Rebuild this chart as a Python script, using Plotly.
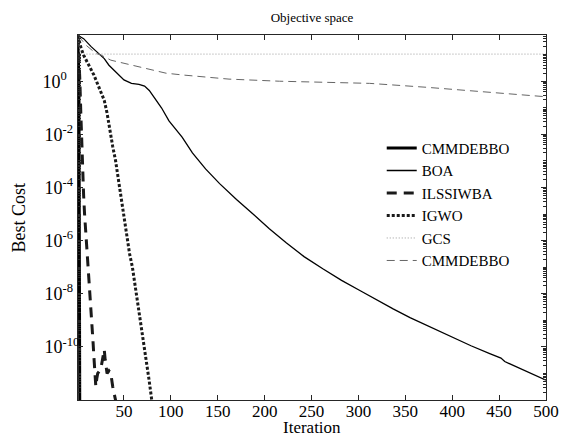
import plotly.graph_objects as go

# ---- data ----
cmm_x = [1, 2, 3]
cmm_y = [52, 0.9, 1e-14]

boa_x = [1, 7, 15, 23, 29, 34, 43, 50, 58, 66, 72, 77, 82, 90, 98, 112, 123, 137, 152, 170,
         187, 205, 223, 242, 262, 282, 302, 320, 337, 355, 373, 395, 420, 440, 452, 456, 475, 494, 500]
boa_y = [52.5, 40, 20, 11.2, 7.1, 4.0, 2.0, 1.12, 0.83, 0.76, 0.66, 0.45, 0.25, 0.1, 0.032,
         7.9e-3, 2.0e-3, 5.0e-4, 1.4e-4, 3.5e-5, 1.05e-5, 2.8e-6, 8.3e-7, 2.5e-7, 8.7e-8,
         3.2e-8, 1.3e-8, 5.6e-9, 2.7e-9, 1.26e-9, 6.3e-10, 2.8e-10, 1.1e-10, 5.6e-11,
         3.8e-11, 2.8e-11, 1.4e-11, 7.1e-12, 5.6e-12]

ils_x = [1, 2, 3, 4, 5, 6, 7, 8, 9, 10, 11, 12, 13, 14, 15, 16, 17, 18, 19, 20, 21, 22, 24,
         26, 28, 29, 30, 32, 34, 36, 38, 40, 41, 42]
ils_y = [52, 10, 1.0, 6.3e-2, 4.0e-3, 3.2e-4, 5.0e-5, 1.0e-5, 3.2e-6, 1.0e-6, 3.2e-7,
         1.0e-7, 4.0e-8, 1.26e-8, 4.0e-9, 1.0e-9, 1.6e-10, 4.0e-11, 1.0e-11, 3.2e-12,
         6.3e-12, 1.0e-11, 1.26e-11, 2.0e-11, 5.0e-11, 7.9e-11, 3.2e-11, 1.0e-11,
         1.26e-11, 1.0e-11, 3.2e-12, 1.6e-12, 1.0e-12, 3.2e-13]

igwo_x = [1, 4, 7, 10, 14, 18, 23, 26, 29, 32, 35, 38, 41, 44, 47, 50, 53, 56, 59, 62, 65,
          68, 71, 74, 77, 80]
igwo_y = [52, 19, 9.5, 5.6, 3.2, 1.7, 0.63, 0.35, 0.19, 0.063, 0.0126, 3.5e-3, 1.05e-3,
          2.2e-4, 4.2e-5, 7.9e-6, 1.4e-6, 3.2e-7, 1.0e-7, 2.0e-8, 4.0e-9, 8.9e-10,
          1.8e-10, 3.5e-11, 5.0e-12, 7.9e-13]

gcs_x = [1, 3, 5, 500]
gcs_y = [52, 12.6, 10.5, 10.5]

cmm2_x = [1, 10, 20, 26, 36, 50, 72, 95, 114, 140, 162, 216, 270, 312, 373, 444, 494, 500]
cmm2_y = [52, 22, 11.2, 9.5, 6.2, 4.8, 3.1, 2.0, 1.7, 1.41, 1.2, 1.0, 0.91, 0.83, 0.59,
          0.38, 0.27, 0.26]

x_ticks = [50, 100, 150, 200, 250, 300, 350, 400, 450, 500]
y_tick_vals = [1e-10, 1e-8, 1e-6, 1e-4, 1e-2, 1e0]
y_tick_text = ["10<sup>-10</sup>", "10<sup>-8&#160;&#160;</sup>", "10<sup>-6&#160;&#160;</sup>",
               "10<sup>-4&#160;&#160;</sup>", "10<sup>-2&#160;&#160;</sup>",
               "10<sup>0&#160;&#160;&#160;&#160;</sup>"]

FONT = "Liberation Serif"

fig = go.Figure()
fig.add_trace(go.Scatter(x=cmm_x, y=cmm_y, mode="lines", name="CMMDEBBO",
                         line=dict(color="black", width=3)))
fig.add_trace(go.Scatter(x=boa_x, y=boa_y, mode="lines", name="BOA",
                         line=dict(color="black", width=1.3)))
fig.add_trace(go.Scatter(x=ils_x, y=ils_y, mode="lines", name="ILSSIWBA",
                         line=dict(color="#1a1a1a", width=3, dash="10px,7px")))
fig.add_trace(go.Scatter(x=igwo_x, y=igwo_y, mode="lines", name="IGWO",
                         line=dict(color="#1a1a1a", width=3, dash="3px,2px")))
fig.add_trace(go.Scatter(x=gcs_x, y=gcs_y, mode="lines", name="GCS",
                         line=dict(color="#999999", width=1, dash="1px,2px")))
fig.add_trace(go.Scatter(x=cmm2_x, y=cmm2_y, mode="lines", name="CMMDEBBO",
                         line=dict(color="#666666", width=1, dash="8px,5px")))

axis_common = dict(showline=True, linecolor="#262626", linewidth=1, mirror="ticks",
                   ticks="inside", tickcolor="#262626", showgrid=False, zeroline=False,
                   automargin=False)

fig.update_xaxes(range=[1, 500], tickvals=x_ticks, ticklen=5, ticklabelstandoff=-4,
                 tickfont=dict(family=FONT, size=17, color="black"), **axis_common)
fig.update_yaxes(type="log", range=[-12, 1.74], tickvals=y_tick_vals, ticktext=y_tick_text,
                 ticklen=5, ticklabelstandoff=-6,
                 tickfont=dict(family=FONT, size=18, color="black"),
                 minor=dict(ticks="inside", ticklen=3, dtick="D1", tickcolor="#262626",
                            showgrid=False),
                 **axis_common)

fig.add_annotation(text="Iteration", xref="paper", yref="paper", x=0.5, y=0,
                   yshift=-27, xanchor="center", yanchor="middle", showarrow=False,
                   font=dict(family=FONT, size=17, color="black"))
fig.add_annotation(text="Best Cost", xref="paper", yref="paper", x=0, y=0.5,
                   xshift=-60, xanchor="center", yanchor="middle", textangle=-90,
                   showarrow=False, font=dict(family=FONT, size=18, color="black"))

fig.update_layout(
    width=566, height=437,
    margin=dict(l=78, r=20, t=35, b=37),
    paper_bgcolor="white", plot_bgcolor="white",
    title=dict(text="Objective space", x=0.5, xref="paper", xanchor="center",
               y=1 - 17 / 437, yref="container", yanchor="middle",
               font=dict(family=FONT, size=13, color="black")),
    font=dict(family=FONT, color="black"),
    legend=dict(x=0.649, y=0.735, xanchor="left", yanchor="top",
                bgcolor="rgba(0,0,0,0)", borderwidth=0, tracegroupgap=0,
                font=dict(family=FONT, size=15, color="black"), itemwidth=30),
    showlegend=True,
)

fig.write_html("out.html", config={"displayModeBar": False},
               post_script="document.body.style.margin='0';")
